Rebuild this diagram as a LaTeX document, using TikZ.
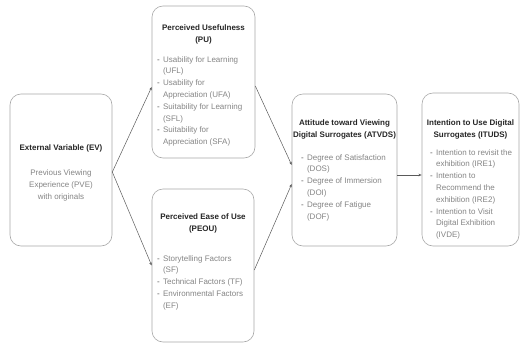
\documentclass[tikz,border=0pt]{standalone}
\usepackage{fontspec}
\setmainfont{Liberation Sans}
\usetikzlibrary{arrows.meta}
\definecolor{boxline}{HTML}{A8A8A8}
\definecolor{titlec}{HTML}{262626}
\definecolor{bodyc}{HTML}{858585}
\definecolor{bulc}{HTML}{555555}
\definecolor{arrc}{HTML}{5A5A5A}
\tikzset{
  box/.style={draw=boxline, line width=0.6pt, rounded corners=11pt, fill=white, inner sep=0pt},
  ttl/.style={inner sep=0pt, anchor=base, text=titlec, font=\fontsize{8}{12}\selectfont\bfseries},
  bod/.style={inner sep=0pt, anchor=base west, text=bodyc, font=\fontsize{8}{11.8}\selectfont},
  bodc/.style={inner sep=0pt, anchor=base, text=bodyc, font=\fontsize{8}{12}\selectfont},
  arr/.style={draw=arrc, line width=0.5pt, -{Stealth[length=3.2pt,width=2.6pt]}}
}
\newcommand{\bul}{\textcolor{bulc}{-}}
\newcommand{\blist}[1]{\begin{tabular}[t]{@{}l@{\hspace{3.2pt}}l@{}}#1\end{tabular}}
\newcommand{\ctab}[1]{\begin{tabular}[t]{@{}c@{}}#1\end{tabular}}
\begin{document}
\begin{tikzpicture}[x=1pt,y=-1pt]
\useasboundingbox (0,0) rectangle (521,343);
% boxes
\node[box, minimum width=102pt, minimum height=152pt] (ev) at (61,170) {};
\node[box, minimum width=103pt, minimum height=152pt] (pu) at (203.5,82) {};
\node[box, minimum width=102pt, minimum height=153pt] (peou) at (203,265.5) {};
\node[box, minimum width=105pt, minimum height=152pt] (at) at (344.5,170) {};
\node[box, minimum width=97pt, minimum height=153pt] (it) at (470.5,169.5) {};
% EV
\node[ttl] (evt) at (61,150) {\ctab{External Variable (EV)}};
\node[bodc] (evb) at (61,175) {\ctab{Previous Viewing\\Experience (PVE)\\with originals}};
% PU
\node[ttl] (put) at (203.5,30) {\ctab{Perceived Usefulness\\(PU)}};
\node[bod] (pub) at (157,62) {\blist{\bul&Usability for Learning\\&(UFL)\\\bul&Usability for\\&Appreciation (UFA)\\\bul&Suitability for Learning\\&(SFL)\\\bul&Suitability for\\&Appreciation (SFA)}};
% PEOU
\node[ttl] (peout) at (203,219) {\ctab{Perceived Ease of Use\\(PEOU)}};
\node[bod] (peoub) at (157,261) {\blist{\bul&Storytelling Factors\\&(SF)\\\bul&Technical Factors (TF)\\\bul&Environmental Factors\\&(EF)}};
% ATVDS
\node[ttl] (att) at (344.5,125) {\ctab{Attitude toward Viewing\\Digital Surrogates (ATVDS)}};
\node[bod] (atb) at (301,160) {\blist{\bul&Degree of Satisfaction\\&(DOS)\\\bul&Degree of Immersion\\&(DOI)\\\bul&Degree of Fatigue\\&(DOF)}};
% ITUDS
\node[ttl] (itt) at (470.5,125) {\ctab{Intention to Use Digital\\Surrogates (ITUDS)}};
\node[bod] (itb) at (430,155) {\blist{\bul&Intention to revisit the\\&exhibition (IRE1)\\\bul&Intention to\\&Recommend the\\&exhibition (IRE2)\\\bul&Intention to Visit\\&Digital Exhibition\\&(IVDE)}};
% arrows
\draw[arr] ([yshift=-2pt]ev.east) -- ([yshift=-5pt]pu.west);
\draw[arr] ([yshift=-2pt]ev.east) -- (peou.west);
\draw[arr] ([yshift=-4pt]pu.east) -- ([yshift=5pt]at.west);
\draw[arr] ([yshift=-4.5pt]peou.east) -- ([yshift=-14pt]at.west);
\draw[arr] ([yshift=-5pt]at.east) -- ([yshift=-5.5pt]it.west);
\end{tikzpicture}
\end{document}
